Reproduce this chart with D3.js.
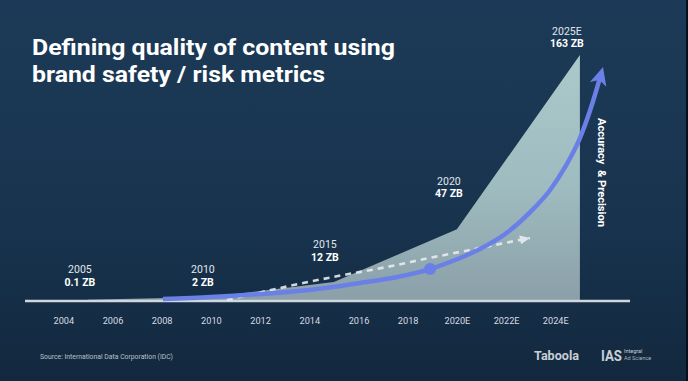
<!DOCTYPE html>
<html><head><meta charset="utf-8">
<script src="https://cdn.jsdelivr.net/npm/d3@7"></script>
<style>html,body{margin:0;padding:0;background:#17314b;overflow:hidden}svg{display:block}</style>
</head><body><svg id="c" width="688" height="381"></svg>
<script>
// ---- data ----
const years = [2005, 2010, 2015, 2020, 2025];
const volumes = [0.1, 2, 12, 47, 163];
const yearLabels = ["2005", "2010", "2015", "2020", "2025E"];
const volumeLabels = ["0.1 ZB", "2 ZB", "12 ZB", "47 ZB", "163 ZB"];
const tickYears = [2004, 2006, 2008, 2010, 2012, 2014, 2016, 2018, 2020, 2022, 2024];
const tickLabels = ["2004", "2006", "2008", "2010", "2012", "2014", "2016", "2018", "2020E", "2022E", "2024E"];
const trendYears = [2008.05, 2010, 2012, 2014, 2014.96, 2016.06, 2017.57, 2018.91, 2019.93, 2020.94, 2021.96, 2022.98, 2023.79, 2024.4, 2024.97, 2025.42, 2025.94];
const trendValues = [0.7, 2, 4, 6.7, 8.6, 11.3, 15.3, 20.6, 26.6, 33.9, 43.9, 58.5, 73.2, 88.5, 106.5, 126.4, 155];
const markerYears = [2018.91];
const markerValues = [20.6];
const dashedYears = [2010.65, 2011.18, 2014.96, 2017.16, 2018.9, 2020.94, 2022.97];
const dashedValues = [0, 2, 15.3, 22, 28, 34.6, 41.3];
const title = ["Defining quality of content using", "brand safety / risk metrics"];
const sideLabel = "Accuracy  & Precision";
const source = "Source: International Data Corporation (IDC)";

// ---- layout ----
const W = 688, H = 381;
const svg = d3.select("#c");
const x = d3.scaleLinear().domain([2004, 2025]).range([63.3, 579.9]);
const y = d3.scaleLinear().domain([0, 163]).range([300, 55]);
const FONT = "Roboto, 'Noto Sans', 'DejaVu Sans', sans-serif";

const defs = svg.append("defs");
const bg = defs.append("linearGradient").attr("id", "bg").attr("x1", 0).attr("y1", 0).attr("x2", 0).attr("y2", 1);
bg.append("stop").attr("offset", 0).attr("stop-color", "#1c3a57");
bg.append("stop").attr("offset", 0.6).attr("stop-color", "#18334e");
bg.append("stop").attr("offset", 1).attr("stop-color", "#12283e");
const ag = defs.append("linearGradient").attr("id", "ag").attr("gradientUnits", "userSpaceOnUse")
  .attr("x1", 0).attr("y1", y(163)).attr("x2", 0).attr("y2", y(0));
ag.append("stop").attr("offset", 0).attr("stop-color", "#abc8cb");
ag.append("stop").attr("offset", 0.55).attr("stop-color", "#9ebbbf");
ag.append("stop").attr("offset", 1).attr("stop-color", "#8b9fa8");

defs.append("marker").attr("id", "blueHead").attr("markerUnits", "userSpaceOnUse")
  .attr("viewBox", "-20 -10 22 20").attr("refX", 0).attr("refY", 0)
  .attr("markerWidth", 22).attr("markerHeight", 20).attr("orient", "auto")
  .append("path").attr("d", "M0,0 L-18,-8.5 L-13.5,0 L-18,8.5 Z").attr("fill", "#6a80e6");
defs.append("marker").attr("id", "whiteHead").attr("markerUnits", "userSpaceOnUse")
  .attr("viewBox", "-12 -6 14 12").attr("refX", 0).attr("refY", 0)
  .attr("markerWidth", 14).attr("markerHeight", 12).attr("orient", "auto")
  .append("path").attr("d", "M0,0 L-10,-4.5 L-10,4.5 Z").attr("fill", "#e8eef2");

svg.append("rect").attr("width", W).attr("height", H).attr("fill", "url(#bg)");
svg.append("rect").attr("x", 686).attr("width", 2).attr("height", H).attr("fill", "#05101c");

// title
const tg = svg.append("g").attr("font-family", FONT).attr("font-weight", 700).attr("fill", "#ffffff").attr("font-size", 22);
const titleWidths = [363, 293];
title.forEach((t, i) => {
  tg.append("text").attr("x", 32).attr("y", 55 + i * 27).text(t)
    .attr("textLength", titleWidths[i]).attr("lengthAdjust", "spacingAndGlyphs");
});

// area
const area = d3.area().x((d, i) => x(years[i])).y0(y(0)).y1((d, i) => y(volumes[i]));
svg.append("path").datum(volumes).attr("d", area).attr("fill", "url(#ag)");

// axis line
svg.append("line").attr("x1", 25).attr("x2", 630).attr("y1", 301).attr("y2", 301)
  .attr("stroke", "#cfd6dc").attr("stroke-width", 2.5);

// tick labels via axis
const axis = d3.axisBottom(x).tickValues(tickYears).tickSize(0).tickPadding(0)
  .tickFormat((d, i) => tickLabels[i]);
const ag2 = svg.append("g").attr("transform", "translate(0,317)").call(axis);
ag2.select(".domain").remove();
ag2.selectAll("text").attr("font-family", FONT).attr("font-size", 9.2).attr("fill", "#d6dce3");

// dashed white trend arrow
const dline = d3.line().x((d, i) => x(dashedYears[i])).y((d, i) => y(dashedValues[i])).curve(d3.curveMonotoneX);
svg.append("path").datum(dashedValues).attr("d", dline).attr("fill", "none")
  .attr("stroke", "#e6ecf0").attr("stroke-width", 2.6).attr("stroke-dasharray", "6 5")
  .attr("opacity", 0.9).attr("marker-end", "url(#whiteHead)");

// blue trend arrow
const bline = d3.line().x((d, i) => x(trendYears[i])).y((d, i) => y(trendValues[i])).curve(d3.curveMonotoneX);
const bp = svg.append("path").datum(trendValues).attr("d", bline).attr("fill", "none")
  .attr("stroke", "#6a80e6").attr("stroke-width", 4.5).attr("marker-end", "url(#blueHead)");
const L = bp.node().getTotalLength();
bp.attr("stroke-dasharray", `${L - 11} ${L}`);
svg.selectAll("circle.m").data(markerValues).enter().append("circle").attr("class", "m")
  .attr("cx", (d, i) => x(markerYears[i])).attr("cy", d => y(d)).attr("r", 6).attr("fill", "#6a80e6");

// value annotations
const lift = [14, 11, 21, 32, 8];
const dxs = [-8, -8, -9, -8, -13];
const lg = svg.append("g").attr("font-family", FONT).attr("text-anchor", "middle");
years.forEach((yr, i) => {
  const bx = x(yr) + dxs[i], by = y(volumes[i]) - lift[i];
  lg.append("text").attr("x", bx).attr("y", by - 12.5).attr("font-size", 10.5).attr("fill", "#e2e7ec").text(yearLabels[i]);
  lg.append("text").attr("x", bx).attr("y", by).attr("font-size", 10.5).attr("font-weight", 700).attr("fill", "#ffffff").text(volumeLabels[i]);
});

// side label
svg.append("text").attr("transform", "translate(597.5,172.5) rotate(90)")
  .attr("text-anchor", "middle").attr("font-family", FONT).attr("font-weight", 700)
  .attr("font-size", 10).attr("fill", "#ffffff").attr("textLength", 109).attr("lengthAdjust", "spacingAndGlyphs")
  .attr("xml:space", "preserve").style("white-space", "pre").text(sideLabel);

// source
svg.append("text").attr("x", 40).attr("y", 359).attr("font-family", FONT).attr("font-size", 7)
  .attr("fill", "#b9c2cb").attr("textLength", 133).attr("lengthAdjust", "spacingAndGlyphs").text(source);

// logos (as text)
svg.append("text").attr("x", 534).attr("y", 360).attr("font-family", FONT).attr("font-weight", 700)
  .attr("font-size", 12).attr("fill", "#c9d0d7").attr("textLength", 45).attr("lengthAdjust", "spacingAndGlyphs").text("Taboola");
svg.append("text").attr("x", 601).attr("y", 361).attr("font-family", FONT).attr("font-weight", 700)
  .attr("font-size", 14).attr("fill", "#c9d0d7").attr("textLength", 21).attr("lengthAdjust", "spacingAndGlyphs").text("IAS");
svg.append("text").attr("x", 624).attr("y", 353).attr("font-family", FONT)
  .attr("font-size", 5.5).attr("fill", "#c9d0d7").text("Integral");
svg.append("text").attr("x", 624).attr("y", 360).attr("font-family", FONT)
  .attr("font-size", 5.5).attr("fill", "#aab3bd").text("Ad Science");
</script></body></html>
